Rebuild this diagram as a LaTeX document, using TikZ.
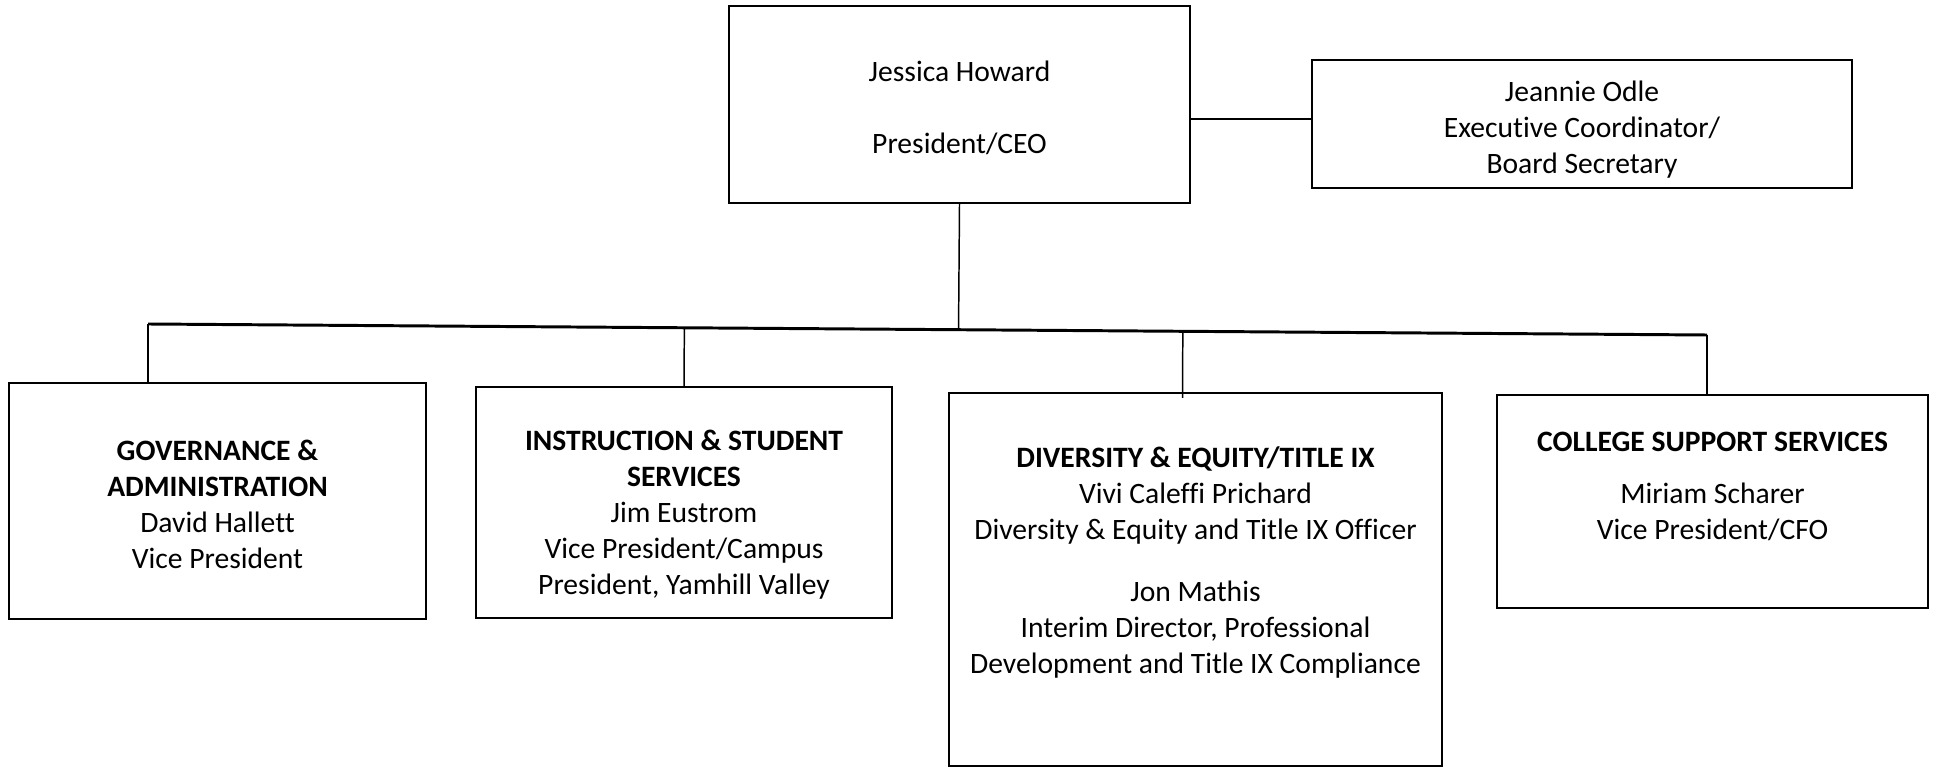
\documentclass[tikz,border=0pt]{standalone}
\usepackage{fontspec}
\setmainfont[Ligatures=NoCommon]{Carlito}
\usepackage{tikz}
\usetikzlibrary{calc}
\definecolor{ink}{HTML}{000000}
\newcommand{\pxl}{0.3717pt}
\tikzset{
  unit/.style 2 args={draw=ink, line width=0.75pt, minimum width=#1*\pxl, minimum height=#2*\pxl, inner sep=0pt},
  link/.style={draw=ink, line width=0.55pt},
  bus/.style={draw=ink, line width=1.1pt},
  txt/.style={align=center, font=\fontsize{11}{13.4}\selectfont, inner sep=0pt, yshift=-1.2pt},
  every node/.style={text=ink}
}

\begin{document}
\begin{tikzpicture}[x=\pxl, y=-\pxl]
  \useasboundingbox (0,0) rectangle (1937,769);

  % top level
  \node[unit={461}{197}] (pres) at (959.5,104.5) {};
  \node[unit={540}{128}] (sec) at (1582,124) {};
  \node[txt] (prestxt) at (pres.center) {Jessica Howard\\[13.4pt]President/CEO};
  \node[txt] (sectxt) at ($(sec.center)+(0,2)$) {Jeannie Odle\\Executive Coordinator/\\Board Secretary};

  % units
  \node[unit={417}{236}] (gov) at (217.5,501) {};
  \node[unit={416}{231}] (inst) at (684,502.5) {};
  \node[unit={493}{373}] (div) at (1195.5,579.5) {};
  \node[unit={431}{213}] (css) at (1712.5,501.5) {};

  \node[txt] (govtxt) at (gov.center) {\textbf{GOVERNANCE \&}\\\textbf{ADMINISTRATION}\\David Hallett\\Vice President};
  \node[txt] (insttxt) at ($(inst.center)+(0,9)$) {\textbf{INSTRUCTION \& STUDENT}\\\textbf{SERVICES}\\Jim Eustrom\\Vice President/Campus\\President, Yamhill Valley};
  \node[txt] (divtxt) at ($(div.center)+(0,-20)$) {\textbf{DIVERSITY \& EQUITY/TITLE IX}\\Vivi Caleffi Prichard\\Diversity \& Equity and Title IX Officer\\[9.7pt]Jon Mathis\\Interim Director, Professional\\Development and Title IX Compliance};
  \node[txt] (csstxt) at ($(css.center)+(0,-18)$) {\textbf{COLLEGE SUPPORT SERVICES}\\[6pt]Miriam Scharer\\Vice President/CFO};

  % connectors
  \coordinate (busL) at (148,324);
  \coordinate (busR) at (1707,335);
  \draw[bus] (busL) -- (busR);
  \draw[link] (pres.east |- {$(sec.west)+(0,-5)$}) -- ($(sec.west)+(0,-5)$);
  \draw[link] (pres.south) -- ($(busL)!(pres.south)!(busR)$);
  \draw[link] (busL) -- (busL |- gov.north);
  \draw[link] ($(busL)!(inst.north)!(busR)$) -- (inst.north);
  \draw[link] ($(busL)!($(div.north)+(-13,0)$)!(busR)$) -- ($(div.north)+(-13,6)$);
  \draw[link] (busR) -- (busR |- css.north);
\end{tikzpicture}
\end{document}
